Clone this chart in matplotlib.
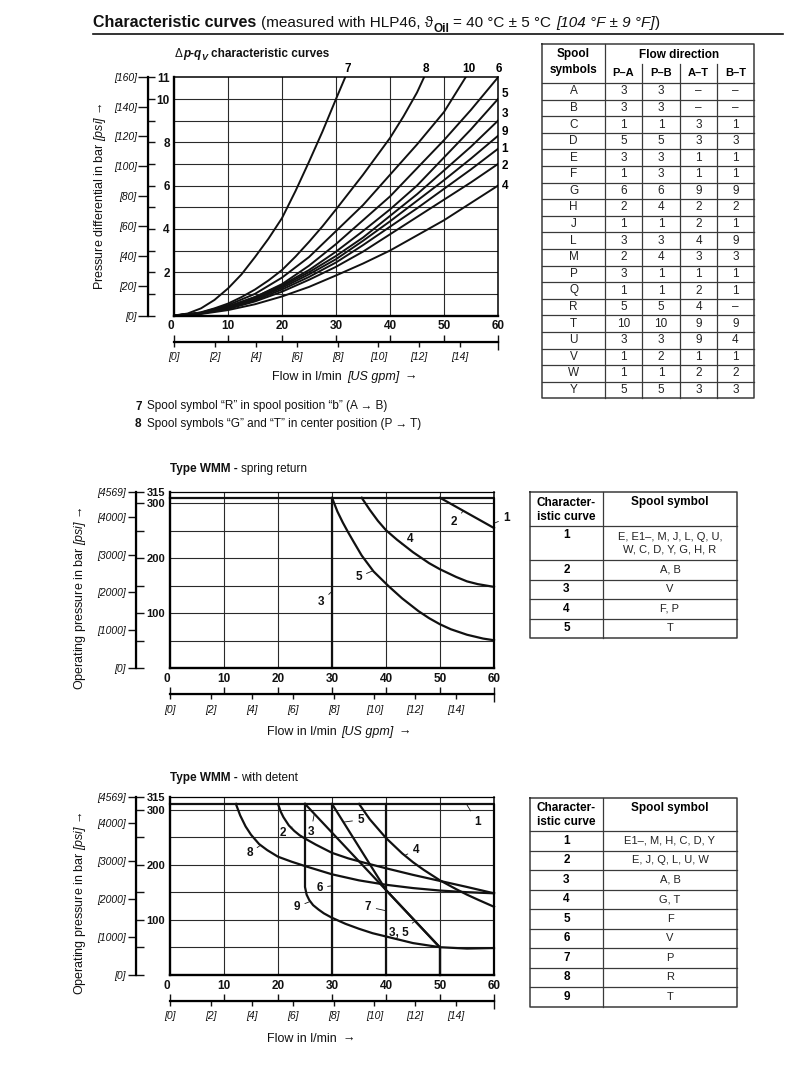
import numpy as np
import matplotlib
matplotlib.use("Agg")
import matplotlib.pyplot as plt

W, H = 793, 1076
BAR_TO_PSI = 14.5038
LMIN_PER_GPM = 3.785411784

plt.rcParams['font.family'] = ['Liberation Sans', 'DejaVu Sans']
plt.rcParams['mathtext.fontset'] = 'custom'
plt.rcParams['mathtext.rm'] = 'Liberation Sans'
plt.rcParams['mathtext.it'] = 'Liberation Sans:italic:bold'
plt.rcParams['mathtext.bf'] = 'Liberation Sans:bold'
plt.rcParams['mathtext.sf'] = 'Liberation Sans:italic'

# ---------------- data: chart 1 (dp-qV curves, bar over l/min) ----------------
q_std = [0, 5, 10, 15, 20, 25, 30, 35, 40, 45, 50, 55, 60]
dp_1 = [0, 0.10, 0.33, 0.70, 1.20, 1.78, 2.45, 3.25, 4.10, 4.95, 5.85, 6.75, 7.7]
dp_2 = [0, 0.09, 0.30, 0.65, 1.10, 1.65, 2.25, 2.95, 3.75, 4.55, 5.35, 6.15, 7.0]
dp_3 = [0, 0.10, 0.38, 0.80, 1.35, 2.00, 2.75, 3.60, 4.60, 5.60, 6.70, 7.80, 9.0]
dp_4 = [0, 0.07, 0.25, 0.52, 0.88, 1.32, 1.85, 2.40, 3.00, 3.70, 4.40, 5.20, 6.0]
dp_5 = [0, 0.11, 0.40, 0.85, 1.40, 2.10, 2.95, 3.90, 4.90, 6.00, 7.30, 8.60, 10.0]
dp_6 = [0, 0.12, 0.42, 0.85, 1.45, 2.30, 3.30, 4.40, 5.50, 6.80, 8.10, 9.50, 11.0]
dp_9 = [0, 0.10, 0.36, 0.76, 1.28, 1.90, 2.60, 3.45, 4.35, 5.30, 6.25, 7.25, 8.3]
q_7 = [0, 2.5, 5, 7.5, 10, 12.5, 15, 17.5, 20, 22.5, 25, 27.5, 30, 31.7]
dp_7 = [0, 0.09, 0.33, 0.72, 1.25, 1.9, 2.7, 3.55, 4.5, 5.75, 7.1, 8.5, 10.0, 11.0]
q_8 = [0, 2.5, 5, 7.5, 10, 12.5, 15, 17.5, 20, 22.5, 25, 27.5, 30, 32.5, 35, 37.5, 40, 42.5, 45, 46.3]
dp_8 = [0, 0.04, 0.15, 0.33, 0.55, 0.85, 1.2, 1.62, 2.1, 2.72, 3.4, 4.12, 4.9, 5.7, 6.5, 7.35, 8.2,
        9.2, 10.3, 11.0]
q_10 = [0, 5, 10, 15, 20, 25, 30, 35, 40, 45, 50, 54]
dp_10 = [0, 0.13, 0.48, 1.0, 1.75, 2.7, 3.9, 5.1, 6.5, 7.9, 9.4, 11.0]

# ---------------- data: chart 2 (WMM spring return, bar over l/min) ----------------
sr_q1 = [0, 60, 60]
sr_p1 = [310, 310, 0]
sr_q2 = [50, 52, 54, 56, 58, 60]
sr_p2 = [310, 299, 288, 277, 266, 255]
sr_q3 = [30, 30]
sr_p3 = [310, 0]
sr_q4 = [35.5, 37, 38.5, 40, 42, 45, 48, 50, 53, 55, 57, 60]
sr_p4 = [310, 288, 268, 251, 234, 211, 191, 180, 166, 158, 153, 148]
sr_q5 = [30, 31, 32, 33, 34, 35.5, 37.7, 40.4, 43, 46, 48, 50, 52, 55, 58, 60]
sr_p5 = [310, 285, 265, 247, 230, 205, 176, 150, 127, 104, 91, 80, 71, 61, 54, 51]

# ---------------- data: chart 3 (WMM with detent) ----------------
dt_q1 = [0, 60, 60]
dt_p1 = [311, 311, 0]
dt_q2 = [20, 20.5, 21, 22, 23, 24, 25, 27, 30, 33, 36, 40, 45, 50, 55, 60]
dt_p2 = [311, 297, 287, 272, 262, 254, 248, 237, 222, 212, 204, 194, 182, 171, 160, 148.5]
dt_q3 = [25, 50, 50]
dt_p3 = [311, 50, 0]
dt_q4 = [35, 37, 40, 43, 45, 47, 50, 53, 55, 57, 60]
dt_p4 = [311, 283, 249, 221, 205, 191, 172, 156, 146, 137, 124]
dt_q5 = [30, 40, 50, 50]
dt_p5 = [311, 154.4, 50, 0]
dt_q6 = [30, 30]
dt_p6 = [311, 0]
dt_q7 = [40, 40]
dt_p7 = [311, 0]
dt_q8 = [12.2, 13, 14, 15, 16.5, 18, 20, 22.5, 25, 30, 35, 40, 45, 50, 55, 60]
dt_p8 = [311, 290, 270, 255, 238, 227, 215, 206, 198, 183, 172, 164, 158, 153.5, 150.5, 148.5]
dt_q9 = [25, 25, 25.3, 25.8, 26.5, 27.5, 28.5, 30, 32.5, 35, 37.5, 40, 45, 50, 55, 60]
dt_p9 = [311, 160, 146, 136, 127, 119, 112, 104, 93, 84, 76, 70, 58, 50.5, 48, 49]

# ---------------- data: tables ----------------
spool_symbols = ['A', 'B', 'C', 'D', 'E', 'F', 'G', 'H', 'J', 'L', 'M', 'P', 'Q', 'R', 'T', 'U', 'V', 'W', 'Y']
flow_pa = ['3', '3', '1', '5', '3', '1', '6', '2', '1', '3', '2', '3', '1', '5', '10', '3', '1', '1', '5']
flow_pb = ['3', '3', '1', '5', '3', '3', '6', '4', '1', '3', '4', '1', '1', '5', '10', '3', '2', '1', '5']
flow_at = ['–', '–', '3', '3', '1', '1', '9', '2', '2', '4', '3', '1', '2', '4', '9', '9', '1', '2', '3']
flow_bt = ['–', '–', '1', '3', '1', '1', '9', '2', '1', '9', '3', '1', '1', '–', '9', '4', '1', '2', '3']
flow_cols = ['P–A', 'P–B', 'A–T', 'B–T']

sr_curves = ['1', '2', '3', '4', '5']
sr_spools = ['E, E1–, M, J, L, Q, U,\nW, C, D, Y, G, H, R', 'A, B', 'V', 'F, P', 'T']
dt_curves = ['1', '2', '3', '4', '5', '6', '7', '8', '9']
dt_spools = ['E1–, M, H, C, D, Y', 'E, J, Q, L, U, W', 'A, B', 'G, T', 'F', 'V', 'P', 'R', 'T']

psi_ticks_1 = [0, 20, 40, 60, 80, 100, 120, 140, 160]
psi_ticks_2 = [0, 1000, 2000, 3000, 4000]
gpm_ticks = [0, 2, 4, 6, 8, 10, 12, 14]

# ---------------- figure ----------------
fig = plt.figure(figsize=(W / 100, H / 100), dpi=100)
bg = fig.add_axes([0, 0, 1, 1])
bg.set_xlim(0, W)
bg.set_ylim(H, 0)
bg.axis('off')

INK = '#111111'
GRID = '#2a2a2a'
TLINE = '#3a3a3a'


def px_axes(l, t, r, b):
    return fig.add_axes([l / W, 1 - b / H, (r - l) / W, (b - t) / H])


def chain(x, y, pieces, size=9):
    # consecutive text runs with different styles on one baseline
    prev = None
    for p in pieces:
        kw = dict(fontsize=p.get('size', size), fontweight=p.get('weight', 'normal'),
                  fontstyle=p.get('style', 'normal'), va='baseline', ha='left', color=INK)
        if prev is None:
            prev = bg.text(x, y, p['s'], **kw)
        else:
            prev = bg.annotate(p['s'], xy=(1, y), xycoords=(prev, 'data'),
                               xytext=(p.get('gap', 0), p.get('dy', 0)),
                               textcoords='offset points', **kw)
    return prev


def setup_chart(ax, ymax, yticks, ylabels, bar_ticks, psi_ticks, psi_labels,
                spine_dx, spine_dy, grid_y, left_len, right_len, ypad, ysize):
    ax.set_xlim(0, 60)
    ax.set_ylim(0, ymax)
    ax.set_xticks(range(0, 61, 10))
    ax.set_xticklabels([str(v) for v in range(0, 61, 10)], fontweight='bold', fontsize=8.5)
    ax.xaxis.get_major_ticks()[0].label1.set_horizontalalignment('right')
    ax.set_yticks(yticks)
    ax.set_yticklabels(ylabels, fontweight='bold', fontsize=ysize)
    ax.tick_params(axis='both', length=0, colors=INK)
    ax.tick_params(axis='x', pad=3.5)
    ax.tick_params(axis='y', pad=ypad)
    for v in range(10, 60, 10):
        ax.axvline(v, color=GRID, lw=0.8, zorder=1)
    for v in grid_y:
        ax.axhline(v, color=GRID, lw=0.8, zorder=1)
    for s in ['left', 'bottom']:
        ax.spines[s].set_linewidth(1.7)
    for s in ['top', 'right']:
        ax.spines[s].set_linewidth(1.1)
    ax.set_facecolor('none')

    w_px = ax.get_position().width * W
    h_px = ax.get_position().height * H
    loc_y = -spine_dx / w_px
    loc_x = -spine_dy / h_px

    # outer pressure scale: psi on the left, bar ticks on the right
    psi_ax = ax.secondary_yaxis(loc_y, functions=(lambda b: b * BAR_TO_PSI, lambda p: p / BAR_TO_PSI))
    psi_ax.set_yticks(psi_ticks)
    psi_ax.set_yticklabels(psi_labels, fontstyle='italic', fontsize=7.5)
    psi_ax.tick_params(axis='y', length=left_len, width=1, pad=1, colors=INK)
    psi_ax.spines['left'].set_linewidth(1.6)
    bar_ax = ax.secondary_yaxis(loc_y)
    bar_ax.yaxis.set_ticks_position('right')
    bar_ax.set_yticks(bar_ticks)
    bar_ax.tick_params(axis='y', length=right_len, width=1, labelleft=False, labelright=False, colors=INK)

    # lower flow scale: l/min ticks up, US gpm ticks down
    lmin_ax = ax.secondary_xaxis(loc_x)
    lmin_ax.set_xticks(range(0, 61, 10))
    lmin_ax.tick_params(axis='x', direction='in', length=5.3, width=1, labelbottom=False, colors=INK)
    lmin_ax.spines['bottom'].set_linewidth(1.6)
    gpm_ax = ax.secondary_xaxis(loc_x, functions=(lambda q: q / LMIN_PER_GPM, lambda g: g * LMIN_PER_GPM))
    gpm_ax.set_xticks(gpm_ticks)
    gpm_ax.set_xticklabels([f'[{v}]' for v in gpm_ticks], fontstyle='italic', fontsize=7.5)
    gpm_ax.set_xticks([60 / LMIN_PER_GPM], minor=True)
    gpm_ax.tick_params(axis='x', which='major', direction='out', length=3.6, width=1, pad=4, colors=INK)
    gpm_ax.tick_params(axis='x', which='minor', direction='out', length=6, width=1, colors=INK)


# ---------------- header ----------------
chain(93, 27, [
    dict(s='Characteristic curves', weight='bold', size=11.5),
    dict(s='(measured with HLP46, ϑ', size=11, gap=3.5),
    dict(s='Oil', weight='bold', size=8.5, dy=-3.5),
    dict(s='= 40 °C ± 5 °C', size=11, gap=3),
    dict(s='[104 °F ± 9 °F]', style='italic', size=11, gap=3.5),
    dict(s=')', size=11),
])
bg.plot([93, 783], [33.5, 33.5], color=INK, lw=1.2)

# ---------------- chart 1 ----------------
ax1 = px_axes(174, 76.5, 498, 315.5)
setup_chart(ax1, 11.04, list(range(1, 12)),
            ['', '2', '', '4', '', '6', '', '8', '', '10', '11'],
            list(range(0, 12)), psi_ticks_1, [f'[{v}]' for v in psi_ticks_1],
            26, 26.2, range(1, 11), 7.0, 5.0, 3.0, 8.5)

chart1 = [(q_std, dp_1), (q_std, dp_2), (q_std, dp_3), (q_std, dp_4), (q_std, dp_5),
          (q_std, dp_6), (q_7, dp_7), (q_8, dp_8), (q_std, dp_9), (q_10, dp_10)]
for q, dp in chart1:
    ax1.plot(q, dp, color=INK, lw=1.4, solid_joinstyle='round')

for name, qx in [('7', 32.2), ('8', 46.6), ('10', 54.6), ('6', 60.2)]:
    ax1.text(qx, 11.4, name, fontweight='bold', fontsize=8.5, ha='center', va='center')
for name, yv in [('5', 10.24), ('3', 9.29), ('9', 8.47), ('1', 7.7), ('2', 6.89), ('4', 6.0)]:
    ax1.text(61.3, yv, name, fontweight='bold', fontsize=8.5, ha='center', va='center')

chain(175, 57, [
    dict(s='Δ', size=8.5),
    dict(s='p', weight='bold', style='italic', size=8.5),
    dict(s='-', weight='bold', size=8.5),
    dict(s='q', weight='bold', style='italic', size=8.5),
    dict(s='V', weight='bold', style='italic', size=6.5, dy=-2),
    dict(s='characteristic curves', weight='bold', size=8.5, gap=2.5),
])
bg.text(100, 196, 'Pressure differential in bar $\\mathsf{[psi]}$ →', rotation=90,
        ha='center', va='center', fontsize=9, color=INK)
chain(272.5, 380, [dict(s='Flow in l/min'), dict(s='[US gpm]', style='italic', gap=3.5),
                   dict(s='→', gap=3.5)], size=9)

bg.text(135, 409.5, '7', fontweight='bold', fontsize=8.5, va='baseline', color=INK)
bg.text(147, 409.5, 'Spool symbol “R” in spool position “b” (A → B)', fontsize=8.5, va='baseline', color=INK)
bg.text(135, 427, '8', fontweight='bold', fontsize=8.5, va='baseline', color=INK)
bg.text(147, 427, 'Spool symbols “G” and “T” in center position (P → T)', fontsize=8.5, va='baseline', color=INK)

# ---------------- chart 2 ----------------
ax2 = px_axes(170, 491.7, 494, 668.3)
setup_chart(ax2, 321, [50, 100, 150, 200, 250, 300, 321],
            ['', '100', '', '200', '', '300', '315'],
            [0, 50, 100, 150, 200, 250, 300, 321],
            psi_ticks_2 + [321 * BAR_TO_PSI],
            [f'[{v}]' for v in psi_ticks_2] + ['[4569]'],
            34.3, 26, [50, 100, 150, 200, 250, 300], 6.0, 5.5, 3.6, 8)
ax2.spines['top'].set_linewidth(0.9)

for q, p in [(sr_q1, sr_p1), (sr_q2, sr_p2), (sr_q3, sr_p3), (sr_q4, sr_p4), (sr_q5, sr_p5)]:
    ax2.plot(q, p, color=INK, lw=1.6, clip_on=False, solid_joinstyle='round')

lead = dict(arrowstyle='-', lw=0.6, color=INK, shrinkA=1.5, shrinkB=0)
lab = dict(fontweight='bold', fontsize=8.5, ha='center', va='center', color=INK,
           annotation_clip=False, arrowprops=lead)
ax2.annotate('1', xy=(60.1, 264), xytext=(62.3, 273), **lab)
ax2.annotate('2', xy=(54.3, 286), xytext=(52.6, 266), **lab)
ax2.annotate('3', xy=(29.9, 139), xytext=(28.0, 121), **lab)
ax2.annotate('4', xy=(42.9, 226), xytext=(44.4, 235), **lab)
ax2.annotate('5', xy=(37.5, 177), xytext=(34.9, 166), **lab)

chain(170, 472, [dict(s='Type WMM -', weight='bold', size=8.5),
                 dict(s='spring return', size=8.5, gap=2.5)])
bg.text(80, 598, 'Operating pressure in bar $\\mathsf{[psi]}$ →', rotation=90,
        ha='center', va='center', fontsize=9, color=INK)
chain(267, 735, [dict(s='Flow in l/min'), dict(s='[US gpm]', style='italic', gap=3.5),
                 dict(s='→', gap=3.5)], size=9)

# ---------------- chart 3 ----------------
ax3 = px_axes(170, 797.3, 494, 975)
setup_chart(ax3, 323, [50, 100, 150, 200, 250, 300, 323],
            ['', '100', '', '200', '', '300', '315'],
            [0, 50, 100, 150, 200, 250, 300, 323],
            psi_ticks_2 + [323 * BAR_TO_PSI],
            [f'[{v}]' for v in psi_ticks_2] + ['[4569]'],
            34.3, 25.7, [50, 100, 150, 200, 250, 300], 6.0, 5.5, 3.6, 8)
ax3.spines['top'].set_linewidth(0.9)

for q, p in [(dt_q1, dt_p1), (dt_q2, dt_p2), (dt_q3, dt_p3), (dt_q4, dt_p4), (dt_q5, dt_p5),
             (dt_q6, dt_p6), (dt_q7, dt_p7), (dt_q8, dt_p8), (dt_q9, dt_p9)]:
    ax3.plot(q, p, color=INK, lw=1.6, clip_on=False, solid_joinstyle='round')

ax3.annotate('1', xy=(55.0, 309), xytext=(56.9, 279), **lab)
ax3.annotate('2', xy=(22.6, 269), xytext=(20.9, 259), **lab)
ax3.annotate('3', xy=(26.7, 292), xytext=(26.1, 260), **lab)
ax3.annotate('5', xy=(32.2, 278), xytext=(35.3, 282), **lab)
ax3.annotate('4', xy=(43.6, 218), xytext=(45.5, 227), **lab)
ax3.annotate('8', xy=(16.8, 236), xytext=(14.7, 222), **lab)
ax3.annotate('6', xy=(29.9, 162), xytext=(27.7, 159), **lab)
ax3.annotate('9', xy=(25.8, 133), xytext=(23.5, 124), **lab)
ax3.annotate('7', xy=(39.9, 117), xytext=(36.7, 124), **lab)
ax3.annotate('3, 5', xy=(45.4, 98), xytext=(42.3, 76), **lab)

chain(170, 781, [dict(s='Type WMM -', weight='bold', size=8.5),
                 dict(s='with detent', size=8.5, gap=2.5)])
bg.text(80, 903, 'Operating pressure in bar $\\mathsf{[psi]}$ →', rotation=90,
        ha='center', va='center', fontsize=9, color=INK)
chain(267, 1042, [dict(s='Flow in l/min'), dict(s='→', gap=4)], size=9)

# ---------------- table 1: spool symbols / flow direction ----------------
tx = [542, 605, 642, 680, 717, 754]
t_top, t_head, row_h = 44, 83, 16.6
t_bot = t_head + row_h * len(spool_symbols)
bg.plot([tx[0], tx[-1], tx[-1], tx[0], tx[0]], [t_top, t_top, t_bot, t_bot, t_top], color=TLINE, lw=1.1)
bg.plot([tx[1], tx[1]], [t_top, t_bot], color=TLINE, lw=0.9)
for xv in tx[2:5]:
    bg.plot([xv, xv], [64, t_bot], color=TLINE, lw=0.9)
for i in range(len(spool_symbols)):
    yv = t_head + i * row_h
    bg.plot([tx[0], tx[-1]], [yv, yv], color=TLINE, lw=0.9)
bg.text((tx[0] + tx[1]) / 2, 54.5, 'Spool', fontweight='bold', fontsize=8.5, ha='center', va='center')
bg.text((tx[0] + tx[1]) / 2, 69.5, 'symbols', fontweight='bold', fontsize=8.5, ha='center', va='center')
bg.text((tx[1] + tx[5]) / 2, 54.5, 'Flow direction', fontweight='bold', fontsize=8.5, ha='center', va='center')
for j, name in enumerate(flow_cols):
    bg.text((tx[j + 1] + tx[j + 2]) / 2, 73.5, name, fontweight='bold', fontsize=8, ha='center', va='center')
for i, row in enumerate(zip(spool_symbols, flow_pa, flow_pb, flow_at, flow_bt)):
    yc = t_head + (i + 0.5) * row_h
    for j, val in enumerate(row):
        bg.text((tx[j] + tx[j + 1]) / 2, yc, val, fontsize=8.5, ha='center', va='center', color='#222222')


# ---------------- tables 2 and 3: characteristic curve / spool symbol ----------------
def curve_table(top, head, row_edges, curves, spools):
    x0, x1, x2 = 530, 603, 737
    bot = row_edges[-1]
    bg.plot([x0, x2, x2, x0, x0], [top, top, bot, bot, top], color=TLINE, lw=1.1)
    bg.plot([x1, x1], [top, bot], color=TLINE, lw=0.9)
    for yv in [head] + row_edges[:-1]:
        bg.plot([x0, x2], [yv, yv], color=TLINE, lw=0.9)
    bg.text((x0 + x1) / 2, top + 10.5, 'Character-', fontweight='bold', fontsize=8.5, ha='center', va='center')
    bg.text((x0 + x1) / 2, top + 24.5, 'istic curve', fontweight='bold', fontsize=8.5, ha='center', va='center')
    bg.text((x1 + x2) / 2, top + 10.5, 'Spool symbol', fontweight='bold', fontsize=8.5, ha='center', va='center')
    prev = head
    for c, s, yb in zip(curves, spools, row_edges):
        if '\n' in s:
            bg.text((x0 + x1) / 2, prev + 9, c, fontweight='bold', fontsize=8.5, ha='center', va='center')
            bg.text((x1 + x2) / 2, (prev + yb) / 2, s, fontsize=8, ha='center', va='center',
                    linespacing=1.35, color='#222222')
        else:
            bg.text((x0 + x1) / 2, (prev + yb) / 2, c, fontweight='bold', fontsize=8.5, ha='center', va='center')
            bg.text((x1 + x2) / 2, (prev + yb) / 2, s, fontsize=8, ha='center', va='center', color='#222222')
        prev = yb


curve_table(492, 526, [560, 579.5, 599, 618.5, 637.5], sr_curves, sr_spools)
curve_table(797.5, 831, [831 + 19.5 * (k + 1) for k in range(len(dt_curves))], dt_curves, dt_spools)

fig.savefig('out.png', dpi=100, facecolor='white')
